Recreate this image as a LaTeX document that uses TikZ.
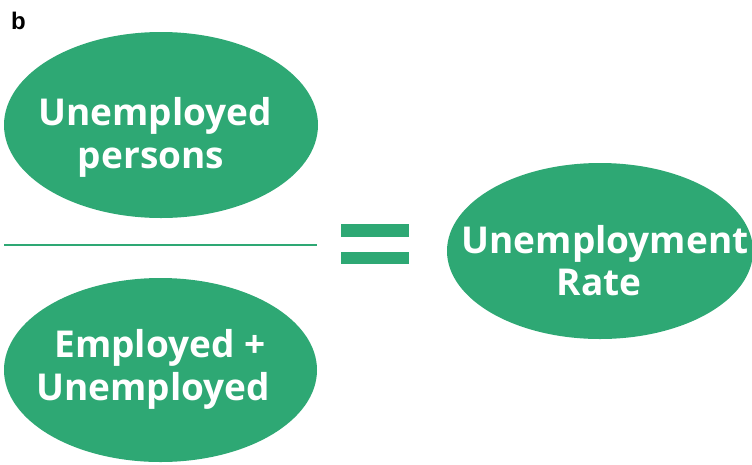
\documentclass[tikz,border=0pt]{standalone}
\usepackage{fontspec}
\setmainfont{Open Sans}
\newfontfamily\panelfont{Liberation Sans}
\usetikzlibrary{shapes.geometric}
\definecolor{leaf}{RGB}{46,168,116}
\tikzset{
  blob/.style={ellipse, fill=leaf, draw=none, inner sep=0pt},
  words/.style={text=white, font=\bfseries\fontsize{37}{43}\selectfont, inner sep=0pt, anchor=base},
  bar/.style={fill=leaf, draw=none}
}
\begin{document}
\begin{tikzpicture}[x=1pt,y=-1pt]
\useasboundingbox (0,0) rectangle (752,464);
% panel letter
\node[anchor=base west, inner sep=0pt, font=\panelfont\bfseries\fontsize{24}{28}\selectfont] (panel) at (11,29) {b};
% numerator
\node[blob, minimum width=314pt, minimum height=186pt] (num) at (161,125) {};
\node[words] (numA) at (155,125) {Unemployed};
\node[words] (numB) at (151,168) {persons};
% fraction line
\coordinate (fracL) at (4,245);
\coordinate (fracR) at (317,245);
\draw[leaf, line width=2.6pt] (fracL) -- (fracR);
% denominator
\node[blob, minimum width=313pt, minimum height=184pt] (den) at (160.5,370) {};
\node[words] (denA) at (160,357) {Employed +};
\node[words] (denB) at (153,400) {Unemployed};
% equals sign
\path[bar] (341,224) rectangle (409,237);
\path[bar] (341,252) rectangle (409,264);
% result
\node[blob, minimum width=306pt, minimum height=176pt] (res) at (600,251) {};
\node[words] (resA) at (605,253) {Unemployment};
\node[words] (resB) at (599,295) {Rate};
\end{tikzpicture}
\end{document}
